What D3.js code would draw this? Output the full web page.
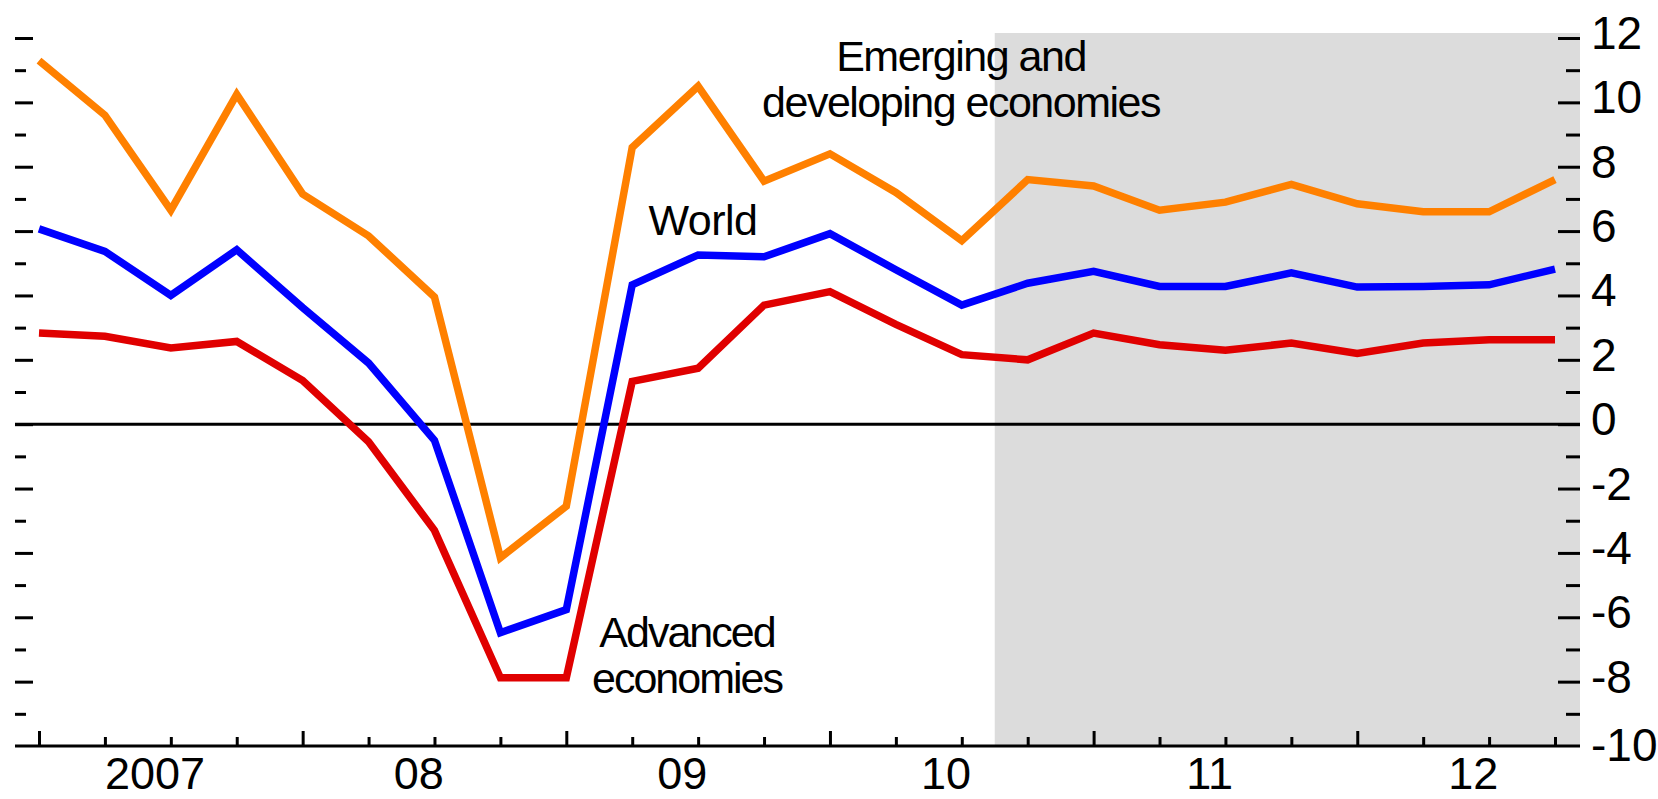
<!DOCTYPE html>
<html>
<head>
<meta charset="utf-8">
<script src="https://cdn.jsdelivr.net/npm/d3@7"></script>
<style>
  body { margin: 0; background: #fff; }
  svg { display: block; font-family: "Liberation Sans", Arial, sans-serif; }
</style>
</head>
<body>
<svg id="chart" width="1658" height="799"></svg>
<script>
// quarterly data, 2007Q1 .. 2012Q4 (index 0..23)
var quarters = d3.range(0, 24);
var yearLabels = ["2007", "08", "09", "10", "11", "12"];

var emerging = [11.3, 9.6, 6.65, 10.25, 7.15, 5.85, 3.95, -4.15, -2.55, 8.6, 10.5, 7.55,
                8.4, 7.2, 5.7, 7.6, 7.4, 6.65, 6.9, 7.45, 6.85, 6.6, 6.6, 7.6];
var world    = [6.07, 5.37, 4.0, 5.42, 3.62, 1.9, -0.5, -6.48, -5.76, 4.33, 5.26, 5.2,
                5.92, 4.8, 3.7, 4.38, 4.75, 4.28, 4.28, 4.7, 4.26, 4.28, 4.33, 4.82];
var advanced = [2.83, 2.73, 2.37, 2.57, 1.36, -0.55, -3.3, -7.88, -7.88, 1.33, 1.74, 3.7,
                4.12, 3.1, 2.16, 2.0, 2.83, 2.47, 2.3, 2.52, 2.2, 2.52, 2.62, 2.62];

// y axis tick labels on the right
var yTickValues = [12, 10, 8, 6, 4, 2, 0, -2, -4, -6, -8, -10];
// shaded projection period starts between 2010Q3 and 2010Q4
var projectionStart = 14.5;

var svg = d3.select("#chart");

// plot box (note: "top" is taken by window.top, so use other names)
var plotLeft = 15, plotRight = 1580, plotTop = 33, plotBottom = 746;

var x = d3.scaleLinear().domain([0, 23]).range([39, 1555]);
var y = d3.scaleLinear().domain([-10, 12]).range([746, 38]);

//shaded area for the forecast
svg.append("rect")
  .attr("x", x(projectionStart)).attr("y", plotTop)
  .attr("width", plotRight - x(projectionStart)).attr("height", plotBottom - plotTop)
  .attr("fill", "#dcdcdc");

//zero line
svg.append("line")
  .attr("x1", plotLeft).attr("x2", plotRight)
  .attr("y1", y(0)).attr("y2", y(0))
  .attr("stroke", "#000").attr("stroke-width", 3);

//the three series
var line = d3.line()
  .x(function (d, i) { return x(i); })
  .y(function (d) { return y(d); });

var series = [
  { values: emerging, color: "#ff8000" },
  { values: world, color: "#0000ff" },
  { values: advanced, color: "#e00000" }
];

svg.selectAll("path.series")
  .data(series)
  .enter().append("path")
  .attr("class", "series")
  .attr("d", function (d) { return line(d.values); })
  .attr("fill", "none")
  .attr("stroke", function (d) { return d.color; })
  .attr("stroke-width", 7.5);

//left ticks (no labels), every 1, long on even values
var leftAxis = svg.append("g")
  .attr("transform", "translate(" + plotLeft + ",0)")
  .call(d3.axisRight(y).tickValues(d3.range(-9, 13)).tickSize(11).tickFormat(""));
leftAxis.select(".domain").remove();
leftAxis.selectAll(".tick line")
  .attr("stroke-width", 3)
  .attr("x2", function (d) { return d % 2 === 0 ? 18 : 11; });

//right ticks, pointing into the plot
var rightAxis = svg.append("g")
  .attr("transform", "translate(" + plotRight + ",0)")
  .call(d3.axisLeft(y).tickValues(d3.range(-9, 13)).tickSize(14).tickFormat(""));
rightAxis.select(".domain").remove();
rightAxis.selectAll(".tick line")
  .attr("stroke-width", 3)
  .attr("x2", function (d) { return d % 2 === 0 ? -22 : -14; });

//right labels
svg.selectAll("text.ylab")
  .data(yTickValues)
  .enter().append("text")
  .attr("class", "ylab")
  .attr("x", 1591)
  .attr("y", function (d) { return y(d) + (d === -10 ? 15 : 11); })
  .style("font-size", "46px")
  .attr("fill", "#000")
  .text(function (d) { return d; });

//bottom axis: baseline, quarterly ticks, longer at the start of each year
svg.append("line")
  .attr("x1", plotLeft).attr("x2", plotRight)
  .attr("y1", plotBottom).attr("y2", plotBottom)
  .attr("stroke", "#000").attr("stroke-width", 3);

var xAxis = svg.append("g")
  .attr("transform", "translate(0," + plotBottom + ")")
  .call(d3.axisTop(x).tickValues(quarters).tickSize(9).tickFormat(""));
xAxis.select(".domain").remove();
xAxis.selectAll(".tick line")
  .attr("stroke-width", 3)
  .attr("y2", function (d) { return d % 4 === 0 ? -15 : -9; });

//year labels, kept just inside the bottom edge
svg.selectAll("text.xlab")
  .data(yearLabels)
  .enter().append("text")
  .attr("class", "xlab")
  .attr("x", function (d, i) { return x(i * 4 + 1.76); })
  .attr("y", 789)
  .attr("text-anchor", "middle")
  .style("font-size", "45px")
  .attr("fill", "#000")
  .text(function (d) { return d; });

//series labels
var notes = [
  { lines: ["Emerging and", "developing economies"], cx: 961, y0: 71, ls: -1.5 },
  { lines: ["World"], cx: 703, y0: 235, ls: -0.5 },
  { lines: ["Advanced", "economies"], cx: 687, y0: 647, ls: -2 }
];

notes.forEach(function (n) {
  var t = svg.append("text")
    .attr("text-anchor", "middle")
    .style("font-size", "43px")
    .style("letter-spacing", n.ls + "px")
    .attr("fill", "#000");
  n.lines.forEach(function (s, i) {
    t.append("tspan")
      .attr("x", n.cx)
      .attr("y", n.y0 + i * 46)
      .text(s);
  });
});
</script>
</body>
</html>
